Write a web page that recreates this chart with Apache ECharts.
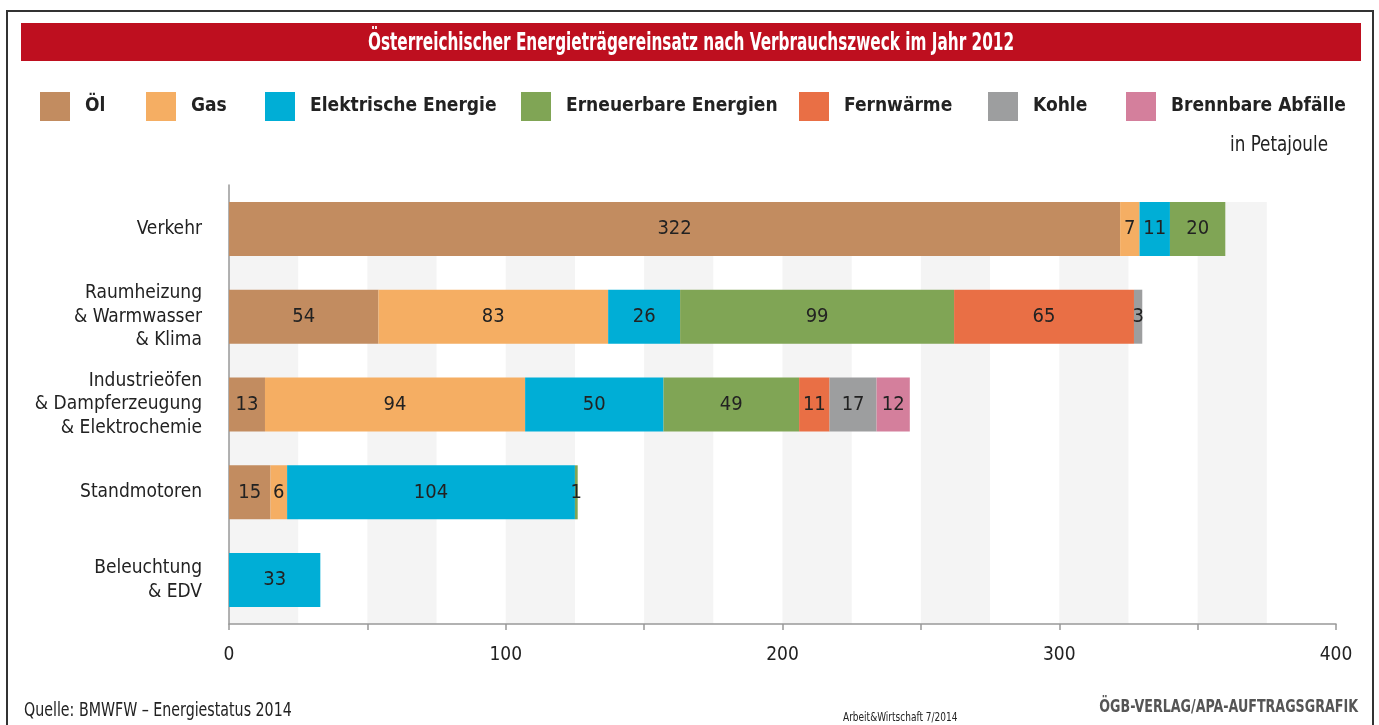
<!DOCTYPE html>
<html>
<head>
<meta charset="utf-8">
<title>Energieträgereinsatz 2012</title>
<script src="https://cdn.jsdelivr.net/npm/echarts@6/dist/echarts.min.js"></script>
<style>
  html, body { margin: 0; padding: 0; background: #fff; }
  #chart { width: 1379px; height: 725px; }
</style>
</head>
<body>
<div id="chart"></div>
<script>
// Verbrauchszwecke (von oben nach unten)
var categories = [
  "Verkehr",
  "Raumheizung\n& Warmwasser\n& Klima",
  "Industrieöfen\n& Dampferzeugung\n& Elektrochemie",
  "Standmotoren",
  "Beleuchtung\n& EDV"
];

// Energieträger, Werte in Petajoule
var oel         = [322, 54, 13, 15, 0];
var gas         = [7, 83, 94, 6, 0];
var elektrisch  = [11, 26, 50, 104, 33];
var erneuerbar  = [20, 99, 49, 1, 0];
var fernwaerme  = [0, 65, 11, 0, 0];
var kohle       = [0, 3, 17, 0, 0];
var abfaelle    = [0, 0, 12, 0, 0];

var seriesNames = ["Öl", "Gas", "Elektrische Energie", "Erneuerbare Energien", "Fernwärme", "Kohle", "Brennbare Abfälle"];
var seriesData = [oel, gas, elektrisch, erneuerbar, fernwaerme, kohle, abfaelle];
var colors = ["#C28C60", "#F5AE63", "#00AED6", "#80A555", "#E96F45", "#9D9E9F", "#D47F9C"];

var xTicks = [0, 100, 200, 300, 400];

// Legendeneinträge wie in der Vorlage verteilt (x der Farbfelder)
var legendLeft = [40, 146, 265, 521, 799, 988, 1126];

var FONT = "'Liberation Sans Narrow', 'DejaVu Sans Condensed', 'Roboto', sans-serif";

var chart = echarts.init(document.getElementById("chart"));

var series = seriesNames.map(function (name, i) {
  return {
    name: name,
    type: "bar",
    stack: "total",
    barWidth: 54,
    xAxisIndex: 0,
    yAxisIndex: 0,
    itemStyle: { color: colors[i] },
    label: {
      show: true,
      position: "inside",
      color: "#222",
      fontFamily: FONT,
      fontSize: 20,
      formatter: function (p) { return p.value ? p.value : ""; }
    },
    data: seriesData[i]
  };
});

// Hintergrundstreifen
series.push({ type: "scatter", xAxisIndex: 1, yAxisIndex: 1, data: [], silent: true });

// schmal gestellte Texte (die Vorlage nutzt eine Condensed-Schrift)
function narrowText(text, x, y, size, weight, color, align, sx) {
  return {
    type: "text",
    z: 10,
    x: x,
    y: y,
    scaleX: sx,
    style: {
      text: text,
      fill: color,
      font: weight + " " + size + "px " + FONT,
      textAlign: align,
      textVerticalAlign: "middle"
    }
  };
}

var legends = seriesNames.map(function (name, i) {
  return {
    data: [name],
    left: legendLeft[i],
    top: 92,
    padding: 0,
    icon: "rect",
    itemWidth: 30,
    itemHeight: 29,
    selectedMode: false,
    textStyle: {
      color: "#222",
      fontSize: 19,
      fontWeight: "bold",
      fontFamily: FONT,
      padding: [0, 0, 0, 10]
    }
  };
});

var option = {
  animation: false,
  textStyle: { fontFamily: FONT },
  color: colors,
  graphic: [
    {
      type: "rect",
      z: 0,
      shape: { x: 7, y: 11, width: 1366, height: 740 },
      style: { fill: "none", stroke: "#333", lineWidth: 2 }
    },
    {
      type: "rect",
      z: 0,
      shape: { x: 21, y: 23, width: 1340, height: 38 },
      style: { fill: "#BE0F1F" }
    },
    narrowText("Österreichischer Energieträgereinsatz nach Verbrauchszweck im Jahr 2012", 691, 43, 25, "bold", "#fff", "center", 0.68),
    narrowText("in Petajoule", 1328, 146, 21, "normal", "#222", "right", 0.89),
    narrowText("Quelle: BMWFW – Energiestatus 2014", 24, 711, 20, "normal", "#222", "left", 0.79),
    narrowText("Arbeit&Wirtschaft 7/2014", 843, 718, 13, "normal", "#222", "left", 0.77),
    narrowText("ÖGB-VERLAG/APA-AUFTRAGSGRAFIK", 1358, 708, 17, "bold", "#555", "right", 0.83)
  ],
  legend: legends,
  grid: [
    { left: 229, top: 185, width: 1107, height: 439, containLabel: false },
    { left: 229, top: 202, width: 1107, height: 422, containLabel: false }
  ],
  xAxis: [
    {
      type: "value",
      gridIndex: 0,
      min: 0,
      max: 400,
      interval: 50,
      axisLine: { show: true, lineStyle: { color: "#999", width: 1.5 } },
      axisTick: { show: true, length: 6, lineStyle: { color: "#999", width: 1.5 } },
      axisLabel: {
        color: "#222",
        fontSize: 19,
        fontFamily: FONT,
        margin: 22,
        formatter: function (v) { return xTicks.indexOf(v) >= 0 ? String(v) : ""; }
      },
      splitLine: { show: false }
    },
    {
      type: "value",
      gridIndex: 1,
      min: 0,
      max: 400,
      interval: 25,
      axisLine: { show: false },
      axisTick: { show: false },
      axisLabel: { show: false },
      splitLine: { show: false },
      splitArea: { show: true, areaStyle: { color: ["#F4F4F4", "rgba(255,255,255,0)"] } }
    }
  ],
  yAxis: [
    {
      type: "category",
      gridIndex: 0,
      inverse: true,
      data: categories,
      axisLine: { show: true, lineStyle: { color: "#999", width: 1.5 } },
      axisTick: { show: false },
      axisLabel: {
        color: "#222",
        fontSize: 19,
        lineHeight: 23.5,
        fontFamily: FONT,
        margin: 27,
        align: "right"
      }
    },
    {
      type: "value",
      gridIndex: 1,
      show: false,
      min: 0,
      max: 1
    }
  ],
  series: series
};

chart.setOption(option);
</script>
</body>
</html>
